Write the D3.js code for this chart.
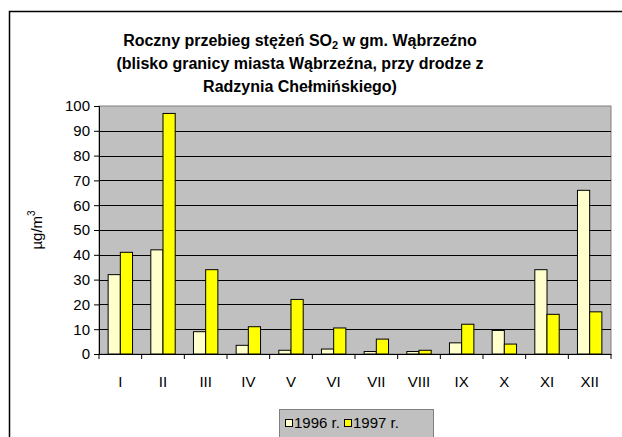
<!DOCTYPE html>
<html>
<head>
<meta charset="utf-8">
<script src="https://cdn.jsdelivr.net/npm/d3@7"></script>
<style>
  html, body { margin: 0; padding: 0; background: #fff; }
  svg { display: block; font-family: "Liberation Sans", Arial, sans-serif; }
</style>
</head>
<body>
<div id="chart"></div>
<script>
// months (roman numerals) and the two yearly series, µg/m3
const months = ['I', 'II', 'III', 'IV', 'V', 'VI', 'VII', 'VIII', 'IX', 'X', 'XI', 'XII'];
const years = ['1996 r.', '1997 r.'];
const values1996 = [32, 42, 9, 3.5, 1.5, 2, 1, 1, 4.5, 9.5, 34, 66];
const values1997 = [41, 97, 34, 11, 22, 10.5, 6, 1.5, 12, 4, 16, 17];
const yTicks = [0, 10, 20, 30, 40, 50, 60, 70, 80, 90, 100];
// first title line is split around the subscript "2" of SO2
const titleLine1 = ['Roczny przebieg stężeń SO', '2', ' w gm. Wąbrzeźno'];
const titleLines = [
  '(blisko granicy miasta Wąbrzeźna, przy drodze z',
  'Radzynia Chełmińskiego)'
];

const W = 622, H = 437;
const plot = { left: 99, right: 611, top: 106, bottom: 354 };
const colors = ['#FFFFCC', '#FFFF00'];
const FONT = '"Liberation Sans", Arial, sans-serif';

const svg = d3.select('#chart').append('svg')
  .attr('width', W).attr('height', H);

// outer chart border (runs off the bottom/right of the picture)
svg.append('rect')
  .attr('x', 9.5).attr('y', 11.5)
  .attr('width', 700).attr('height', 500)
  .attr('fill', '#fff').attr('stroke', '#000').attr('stroke-width', 1.5);

// title
const t1 = svg.append('text')
  .attr('x', 300).attr('y', 46)
  .attr('text-anchor', 'middle')
  .attr('font-size', 16).attr('font-weight', 'bold');
t1.append('tspan').text(titleLine1[0]);
t1.append('tspan').attr('font-size', 11).attr('dy', 3).text(titleLine1[1]);
t1.append('tspan').attr('dy', -3).text(titleLine1[2]);
titleLines.forEach((line, i) => {
  svg.append('text')
    .attr('x', 300).attr('y', 69 + i * 23)
    .attr('text-anchor', 'middle')
    .attr('font-size', 16).attr('font-weight', 'bold')
    .text(line);
});

// scales
const x0 = d3.scaleBand().domain(months).range([plot.left, plot.right]).paddingInner(0).paddingOuter(0);
const x1 = d3.scaleBand().domain(years).range([0, x0.bandwidth()]).paddingInner(0).paddingOuter(0.75);
const y = d3.scaleLinear().domain([0, 100]).range([plot.bottom, plot.top]);

// plot area
svg.append('rect')
  .attr('x', plot.left).attr('y', plot.top)
  .attr('width', plot.right - plot.left).attr('height', plot.bottom - plot.top)
  .attr('fill', '#C0C0C0').attr('stroke', '#808080').attr('stroke-width', 1);

// gridlines
svg.append('g').selectAll('line')
  .data(yTicks.filter(d => d > 0 && d < 100))
  .join('line')
    .attr('x1', plot.left).attr('x2', plot.right)
    .attr('y1', d => Math.round(y(d)) + 0.5).attr('y2', d => Math.round(y(d)) + 0.5)
    .attr('stroke', '#000');

// bars
const series = [values1996, values1997];
const groups = svg.append('g').selectAll('g')
  .data(months)
  .join('g')
    .attr('transform', d => `translate(${x0(d)},0)`);
groups.selectAll('rect')
  .data((m, i) => series.map((s, k) => ({ key: years[k], value: s[i], k })))
  .join('rect')
    .attr('x', d => x1(d.key))
    .attr('y', d => y(d.value))
    .attr('width', x1.bandwidth())
    .attr('height', d => plot.bottom - y(d.value))
    .attr('fill', d => colors[d.k])
    .attr('stroke', '#000').attr('stroke-width', 1);

// y axis
const yAxis = d3.axisLeft(y).tickValues(yTicks).tickSize(5).tickPadding(4);
const yG = svg.append('g')
  .attr('transform', `translate(${plot.left},0)`)
  .call(yAxis);
yG.attr('font-size', 15).attr('font-family', FONT);
yG.selectAll('text').attr('fill', '#000');
yG.selectAll('line, path').attr('stroke', '#000');

// x axis: ticks between categories
const xAxis = d3.axisBottom(x0).tickSize(0).tickPadding(22);
const xG = svg.append('g')
  .attr('transform', `translate(0,${plot.bottom})`)
  .call(xAxis);
xG.attr('font-size', 15).attr('font-family', FONT);
xG.select('.domain').attr('stroke', '#000');
xG.selectAll('text').attr('fill', '#000');
xG.selectAll('.sep')
  .data(months.concat(['end']))
  .join('line')
    .attr('class', 'sep')
    .attr('x1', (d, i) => i < months.length ? x0(d) : plot.right)
    .attr('x2', (d, i) => i < months.length ? x0(d) : plot.right)
    .attr('y1', 0).attr('y2', 5)
    .attr('stroke', '#000');

// y axis label
const yl = svg.append('text')
  .attr('transform', `translate(42,${(plot.top + plot.bottom) / 2}) rotate(-90)`)
  .attr('text-anchor', 'middle')
  .attr('font-size', 15);
yl.append('tspan').text('µg/m');
yl.append('tspan').attr('font-size', 10).attr('dy', -7).text('3');

// legend
const lg = svg.append('g').attr('transform', 'translate(279,409)');
lg.append('rect')
  .attr('x', 0.5).attr('y', 0.5).attr('width', 154).attr('height', 40)
  .attr('fill', '#C0C0C0').attr('stroke', '#808080').attr('stroke-width', 1);
const items = lg.selectAll('g.item')
  .data(years)
  .join('g')
    .attr('class', 'item')
    .attr('transform', (d, i) => `translate(${6 + i * 59},0)`);
items.append('rect')
  .attr('x', 0.5).attr('y', 10.5).attr('width', 7).attr('height', 7)
  .attr('fill', (d, i) => colors[i]).attr('stroke', '#000');
items.append('text')
  .attr('x', 9).attr('y', 19)
  .attr('font-size', 15)
  .text(d => d);
</script>
</body>
</html>
